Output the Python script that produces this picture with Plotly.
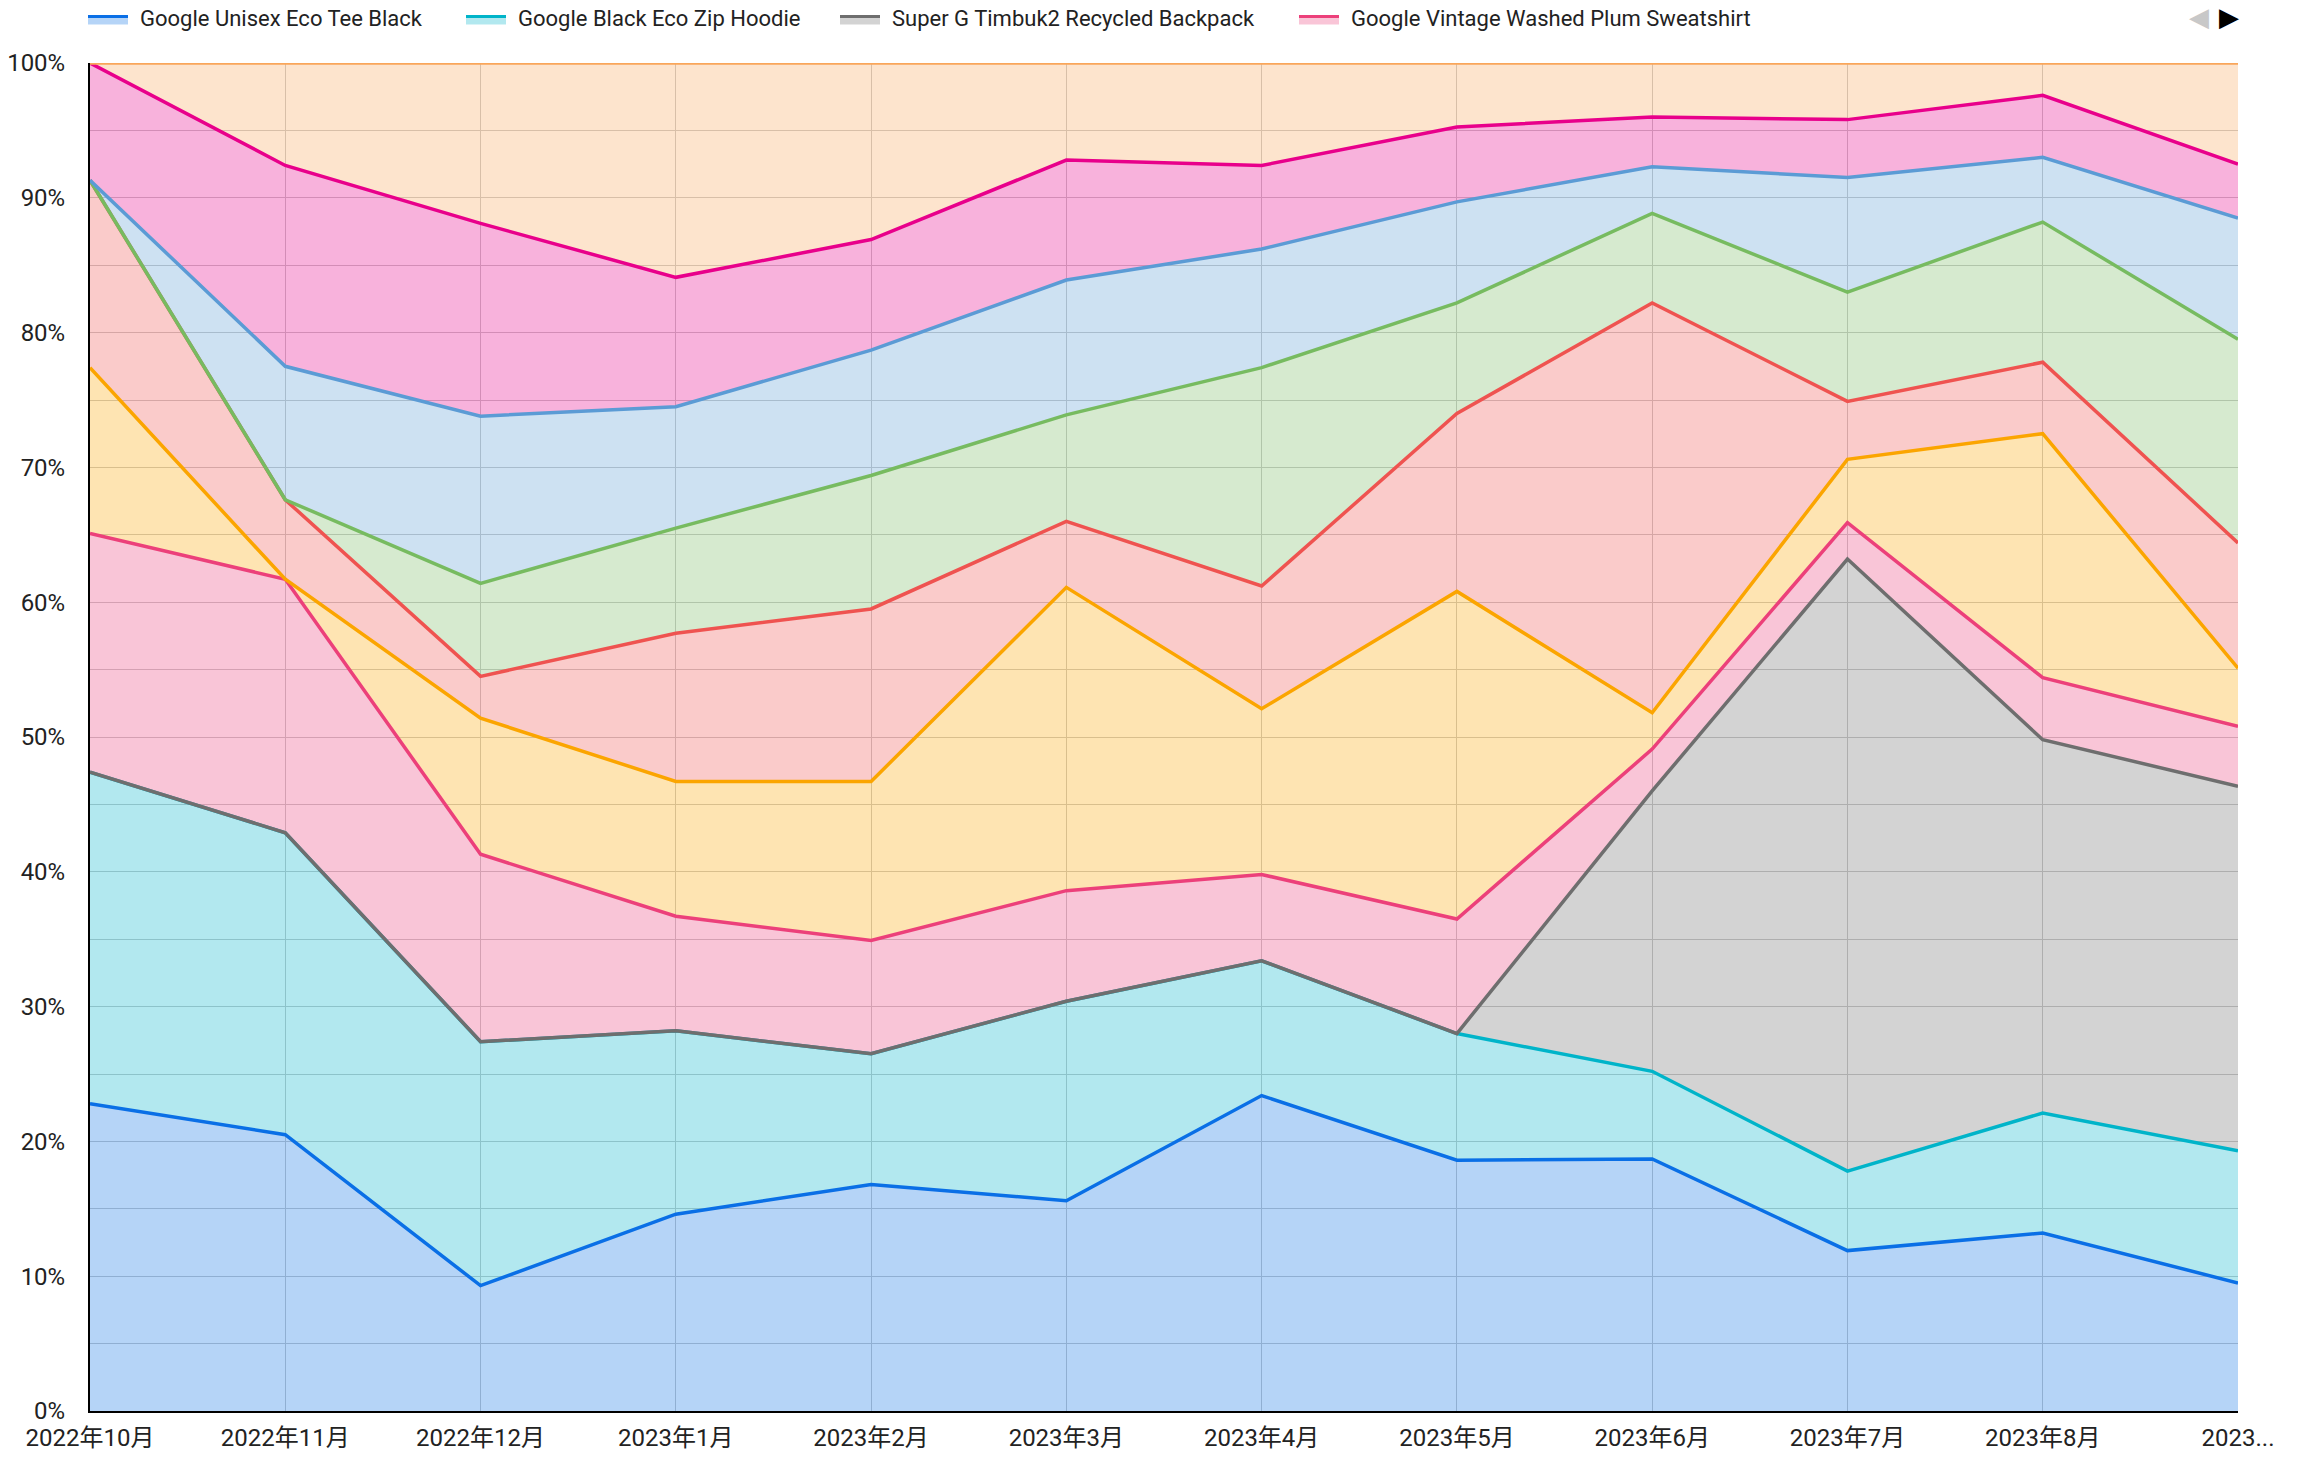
import plotly.graph_objects as go

months = ["2022年10月", "2022年11月", "2022年12月", "2023年1月", "2023年2月", "2023年3月",
          "2023年4月", "2023年5月", "2023年6月", "2023年7月", "2023年8月", "2023年9月"]
tick_labels = ["2022年10月", "2022年11月", "2022年12月", "2023年1月", "2023年2月", "2023年3月",
               "2023年4月", "2023年5月", "2023年6月", "2023年7月", "2023年8月", "2023..."]

names = ["Google Unisex Eco Tee Black", "Google Black Eco Zip Hoodie",
         "Super G Timbuk2 Recycled Backpack", "Google Vintage Washed Plum Sweatshirt",
         "Product 5", "Product 6", "Product 7", "Product 8", "Product 9", "Product 10"]

# shares (%) per month, bottom of the stack first
tee_black      = [22.8, 20.5, 9.3, 14.6, 16.8, 15.6, 23.4, 18.6, 18.7, 11.9, 13.2, 9.5]
zip_hoodie     = [24.6, 22.4, 18.1, 13.6, 9.7, 14.8, 10.0, 9.4, 6.5, 5.9, 8.9, 9.8]
backpack       = [0, 0, 0, 0, 0, 0, 0, 0, 20.8, 45.4, 27.7, 27.05]
plum_sweat     = [17.7, 18.8, 13.9, 8.5, 8.4, 8.2, 6.4, 8.5, 3.1, 2.7, 4.6, 4.45]
product_5      = [12.3, 0, 10.1, 10.0, 11.8, 22.5, 12.3, 24.3, 2.7, 4.7, 18.1, 4.3]
product_6      = [13.9, 5.9, 3.1, 11.0, 12.8, 4.9, 9.1, 13.2, 30.4, 4.3, 5.3, 9.3]
product_7      = [0, 0, 6.9, 7.8, 9.9, 7.9, 16.2, 8.2, 6.65, 8.1, 10.4, 15.1]
product_8      = [0, 9.9, 12.4, 9.0, 9.3, 10.0, 8.8, 7.5, 3.45, 8.5, 4.8, 9.0]
product_9      = [8.7, 14.9, 14.3, 9.6, 8.2, 8.9, 6.2, 5.55, 3.7, 4.3, 4.6, 4.0]
product_10     = [0, 7.6, 11.9, 15.9, 13.1, 7.2, 7.6, 4.75, 4.0, 4.2, 2.4, 7.5]

series = [tee_black, zip_hoodie, backpack, plum_sweat, product_5,
          product_6, product_7, product_8, product_9, product_10]
colors = ["#0a6fe6", "#00b4c9", "#6e6e6e", "#ec407a", "#fba500",
          "#ef5350", "#77bb60", "#5b9bd5", "#e8008b", "#f9a65a"]
legend_count = 4  # the legend is paged: only the first four entries are visible


def rgba(hex_color, a):
    h = hex_color.lstrip("#")
    r, g, b = int(h[0:2], 16), int(h[2:4], 16), int(h[4:6], 16)
    return f"rgba({r},{g},{b},{a})"


W, H = 2304, 1457
ML, MR, MT, MB = 90, 66, 63, 46
PW, PH = W - ML - MR, H - MT - MB


def px(xs):  # figure pixel x -> paper x
    return (xs - ML) / PW


def py(ys):  # figure pixel y -> paper y
    return (H - MB - ys) / PH


fig = go.Figure()
for i, (name, vals, col) in enumerate(zip(names, series, colors)):
    fig.add_trace(go.Scatter(
        x=months, y=vals, name=name, mode="lines",
        stackgroup="one", groupnorm="percent",
        line=dict(color=col, width=3.5),
        fillcolor=rgba(col, 0.3),
        showlegend=False,
        hovertemplate=name + ": %{y:.1f}%<extra></extra>",
    ))

grid = "#cbcbcb"
fig.update_layout(
    width=W, height=H,
    margin=dict(l=ML, r=MR, t=MT, b=MB),
    paper_bgcolor="white", plot_bgcolor="white",
    font=dict(family="Roboto, 'Noto Sans CJK JP', sans-serif", size=24, color="#222222"),
    showlegend=False,
    xaxis=dict(type="category", range=[0, len(months) - 1],
               tickmode="array", tickvals=months, ticktext=tick_labels,
               showgrid=True, gridcolor=grid, gridwidth=1,
               showline=True, linecolor="black", linewidth=2,
               ticks="", tickfont=dict(size=24), ticklabelstandoff=4,
               automargin=False),
    yaxis=dict(range=[0, 100], dtick=10, ticksuffix="%",
               showgrid=True, gridcolor=grid, gridwidth=1,
               minor=dict(dtick=5, showgrid=True, gridcolor=grid, gridwidth=1),
               showline=True, linecolor="black", linewidth=2,
               zeroline=False, ticks="", tickfont=dict(size=24),
               ticklabelstandoff=18, automargin=False),
    hovermode="x unified",
)

# legend row (first page of a paged legend)
legend_icon_x = [88, 466, 840, 1299]
for i in range(legend_count):
    x0 = legend_icon_x[i]
    fig.add_shape(type="rect", xref="paper", yref="paper",
                  x0=px(x0), x1=px(x0 + 40), y0=py(24.5), y1=py(17.5),
                  fillcolor=rgba(colors[i], 0.3), line=dict(width=0), layer="above")
    fig.add_shape(type="line", xref="paper", yref="paper",
                  x0=px(x0), x1=px(x0 + 40), y0=py(16.5), y1=py(16.5),
                  line=dict(color=colors[i], width=3), layer="above")
    fig.add_annotation(xref="paper", yref="paper", x=px(x0 + 50), y=py(18),
                       text=names[i], showarrow=False, xanchor="left", yanchor="middle",
                       font=dict(size=22, color="#222222"))

fig.add_annotation(xref="paper", yref="paper", x=px(2199), y=py(17), text="◀",
                   showarrow=False, font=dict(size=26, color="#c8c8c8",
                   family="DejaVu Sans"), xanchor="center", yanchor="middle")
fig.add_annotation(xref="paper", yref="paper", x=px(2229), y=py(17), text="▶",
                   showarrow=False, font=dict(size=26, color="black",
                   family="DejaVu Sans"), xanchor="center", yanchor="middle")

fig.write_html("out.html", config={"displayModeBar": False},
               post_script="document.body.style.margin='0';document.body.style.overflow='hidden';")
